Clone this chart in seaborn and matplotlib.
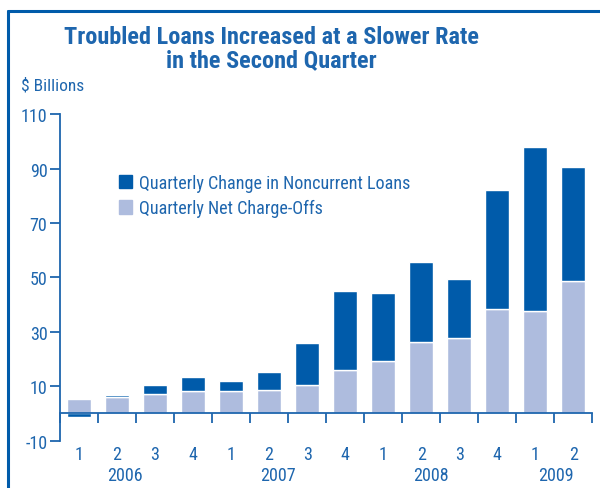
import numpy as np
import pandas as pd
import seaborn as sns
import matplotlib.pyplot as plt
from matplotlib.lines import Line2D
from matplotlib.patches import Patch
from matplotlib.ticker import FixedLocator

# quarterly data, $ billions
quarters = ["1", "2", "3", "4", "1", "2", "3", "4", "1", "2", "3", "4", "1", "2"]
bar_years = ["2006"] * 4 + ["2007"] * 4 + ["2008"] * 4 + ["2009"] * 2
years = ["2006", "2007", "2008", "2009"]
year_pos = [1.2, 5.24, 9.26, 12.55]
charge_offs = [5.5, 6.0, 7.0, 8.4, 8.1, 8.8, 10.6, 16.1, 19.4, 26.4, 27.8, 38.5, 37.7, 48.7]
noncurrent_change = [-1.4, 0.7, 3.6, 5.1, 4.0, 6.6, 15.4, 28.9, 24.9, 29.3, 21.7, 43.6, 60.1, 41.8]

dark = "#005BAA"
light = "#AEBCDE"
txt = "#1E66AE"

sns.set_theme(style="white")
plt.rcParams['font.family'] = ['Roboto Condensed', 'DejaVu Sans']
plt.rcParams['axes.unicode_minus'] = False

df = pd.DataFrame({
    "period": [f"{y} Q{q}" for y, q in zip(bar_years, quarters)],
    "charge": charge_offs,
    "change": noncurrent_change,
})

fig = plt.figure(figsize=(6, 4.89), dpi=100)
ax = fig.add_axes([0.1, 0.0967, 0.887, 0.668])

w = 0.63
sns.barplot(data=df, x="period", y="charge", color=light, saturation=1,
            width=w, ax=ax, zorder=2)
chg = df["change"].to_numpy()
bottoms = np.where(chg > 0, df["charge"].to_numpy(), 0)
ax.bar(np.arange(len(df)), chg, bottom=bottoms, width=w, color=dark, zorder=2)

ax.set_xlim(-0.5, len(df) - 0.5)
ax.set_ylim(-10, 110)
ax.set_yticks([-10, 10, 30, 50, 70, 90, 110])
ax.set_xlabel("")
ax.set_ylabel("")

for s in ["top", "right"]:
    ax.spines[s].set_visible(False)
ax.spines["left"].set_color(txt)
ax.spines["left"].set_linewidth(1.3)
ax.spines["bottom"].set_position(("data", 0))
ax.spines["bottom"].set_color(txt)
ax.spines["bottom"].set_linewidth(1.3)
ax.spines["bottom"].set_zorder(3)

ax.set_xticks(np.arange(len(df)))
ax.set_xticklabels(quarters)
ax.xaxis.set_minor_locator(FixedLocator(np.arange(len(df) + 1) - 0.5))
ax.tick_params(axis="x", which="major", bottom=True, length=0, pad=23,
               labelsize=13, labelcolor=txt)
ax.tick_params(axis="x", which="minor", bottom=True, length=7, width=1.3,
               color=txt, direction="out")
ax.tick_params(axis="y", left=True, length=7, width=1.3, color=txt, direction="out",
               labelsize=13, labelcolor=txt, pad=2)

for y, p in zip(years, year_pos):
    ax.text(p, -0.105, y, transform=ax.get_xaxis_transform(), ha="center", va="center",
            fontsize=13, color=txt)

handles = [Patch(color=dark, label="Quarterly Change in Noncurrent Loans"),
           Patch(color=light, label="Quarterly Net Charge-Offs")]
ax.legend(handles=handles, loc="upper left", bbox_to_anchor=(0.11, 0.818), frameon=False,
          borderaxespad=0, borderpad=0, handlelength=0.75, handleheight=0.75,
          handletextpad=0.4, labelspacing=0.42, fontsize=13.1, labelcolor=txt)

fig.text(0.453, 0.947, "Troubled Loans Increased at a Slower Rate\nin the Second Quarter",
         ha="center", va="top", fontsize=17.5, fontweight="bold", color=txt, linespacing=1.02)
fig.text(0.035, 0.824, "$ Billions", ha="left", va="center", fontsize=12.5, color=txt)

fig.add_artist(Line2D([8 / 600, 8 / 600], [0, 1 - 12 / 489], color=dark, lw=2.2))
fig.add_artist(Line2D([8 / 600, 1], [1 - 12 / 489, 1 - 12 / 489], color=dark, lw=2.2))

fig.savefig("out.png", dpi=100, facecolor="white")
